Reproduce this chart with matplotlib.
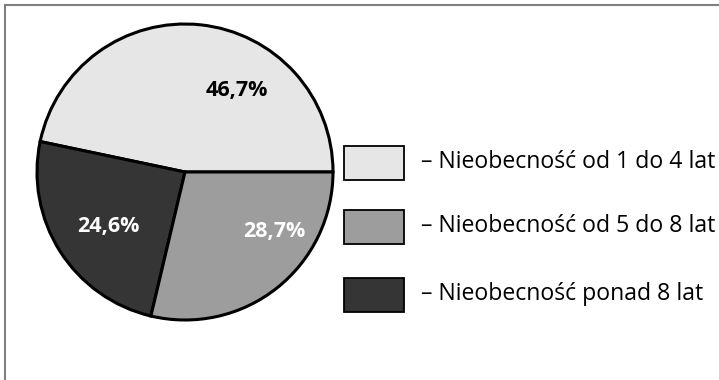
import matplotlib
matplotlib.use("Agg")
import matplotlib.pyplot as plt
from matplotlib.patches import Rectangle

# Data
categories = ["– Nieobecność od 1 do 4 lat",
              "– Nieobecność od 5 do 8 lat",
              "– Nieobecność ponad 8 lat"]
shares = [46.7, 28.7, 24.6]
labels = ["46,7%", "28,7%", "24,6%"]
colors = ["#e6e6e6", "#9d9d9d", "#353535"]
label_colors = ["black", "white", "white"]

W, H = 719, 380
fig = plt.figure(figsize=(W / 100, H / 100), dpi=100)
ax = fig.add_axes([0, 0, 1, 1])

font = ["Open Sans", "DejaVu Sans"]

# Pie: light, dark, medium counter-clockwise from 3 o'clock
order = [0, 2, 1]
cx, cy, r = 185, H - 172, 148
ax.pie([shares[i] for i in order],
       colors=[colors[i] for i in order],
       startangle=0, counterclock=True,
       center=(cx, cy), radius=r, frame=True,
       wedgeprops=dict(edgecolor="black", linewidth=2.2))
ax.set_xlim(0, W)
ax.set_ylim(0, H)
ax.set_aspect("equal")
ax.axis("off")

# Outer frame (right and bottom edges run past the canvas)
ax.add_patch(Rectangle((5, -20), W + 40, H - 4 + 20 - 0.5, fill=False,
                       edgecolor="#7f7f7f", linewidth=1.5))

# Value labels (x centre, baseline)
label_pos = [(237, 96), (274, 237), (108, 232)]
for lab, (x, y), c in zip(labels, label_pos, label_colors):
    ax.text(x, H - y, lab, ha="center", va="baseline", fontsize=15.5,
            fontweight="bold", color=c, family=font)

# Legend
box_tops = [146, 210, 278]
for cat, col, top in zip(categories, colors, box_tops):
    ax.add_patch(Rectangle((344, H - top - 34), 60, 34, facecolor=col,
                           edgecolor="black", linewidth=1.3))
    ax.text(421, H - top - 22, cat, ha="left", va="baseline", fontsize=16.6,
            color="black", family=font)

fig.savefig("out.png", dpi=100)
